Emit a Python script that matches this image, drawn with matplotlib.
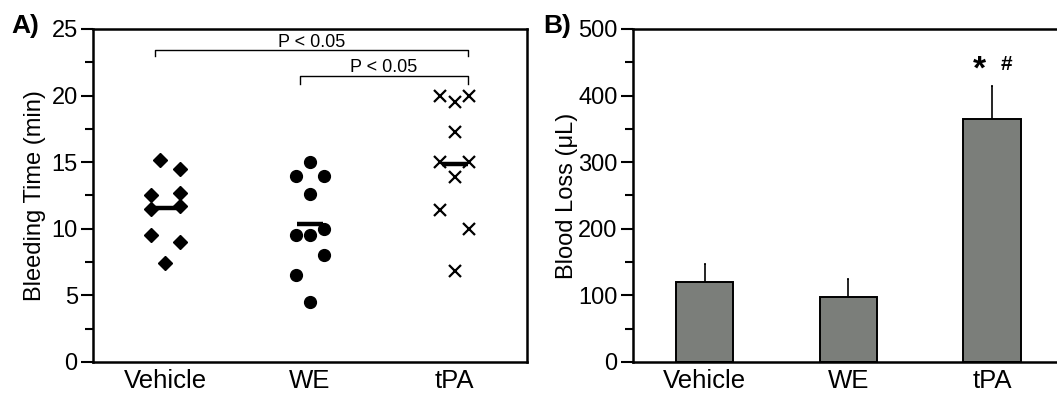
import matplotlib
matplotlib.use("Agg")
import matplotlib.pyplot as plt
import numpy as np
from matplotlib.ticker import MultipleLocator

plt.rcParams['font.family'] = ['Liberation Sans', 'DejaVu Sans']

# ---- Data ----
groups = ["Vehicle", "WE", "tPA"]

vehicle_time = [15.2, 14.5, 12.5, 12.7, 11.5, 11.7, 9.5, 9.0, 7.4]
vehicle_jitter = [-0.04, 0.10, -0.10, 0.10, -0.10, 0.10, -0.10, 0.10, 0.0]
we_time = [15.0, 14.0, 14.0, 12.6, 10.0, 9.5, 9.5, 8.0, 6.5, 4.5]
we_jitter = [0.0, -0.10, 0.10, 0.0, 0.10, -0.10, 0.0, 0.10, -0.10, 0.0]
tpa_time = [20.0, 19.5, 20.0, 17.3, 15.0, 15.0, 13.9, 11.4, 10.0, 6.8]
tpa_jitter = [-0.10, 0.0, 0.10, 0.0, -0.10, 0.10, 0.0, -0.10, 0.10, 0.0]

blood_loss_mean = [120, 98, 365]
blood_loss_sem = [27, 26, 49]

# ---- Figure ----
fig = plt.figure(figsize=(10.57, 3.96), dpi=100)
axA = fig.add_axes([0.088, 0.0859, 0.4106, 0.8409])
axB = fig.add_axes([0.5986, 0.0859, 0.408, 0.8409])

spine_lw = 1.8
tick_fs = 17
xlab_fs = 18.5
ylab_fs = 17

# Panel A
series = [(vehicle_time, vehicle_jitter, 'D', 7),
          (we_time, we_jitter, 'o', 8.5),
          (tpa_time, tpa_jitter, 'x', 8.5)]
for i, (vals, jit, mk, ms) in enumerate(series):
    xs = np.array(jit) + i
    if mk == 'x':
        axA.plot(xs, vals, linestyle='none', marker='x', ms=ms, mew=1.6, color='black')
    else:
        axA.plot(xs, vals, linestyle='none', marker=mk, ms=ms, color='black', mec='black')
    m = np.mean(vals)
    axA.plot([i - 0.09, i + 0.09], [m, m], color='black', lw=3.2, solid_capstyle='butt')

axA.set_xlim(-0.5, 2.5)
axA.set_ylim(0, 25)
axA.set_xticks(range(3))
axA.set_xticklabels(groups, fontsize=xlab_fs)
axA.tick_params(axis='x', length=0, pad=5)
axA.yaxis.set_major_locator(MultipleLocator(5))
axA.yaxis.set_minor_locator(MultipleLocator(2.5))
axA.tick_params(axis='y', which='major', length=9, width=1.5, labelsize=tick_fs, pad=2)
axA.tick_params(axis='y', which='minor', length=5.5, width=1.5)
for s in axA.spines.values():
    s.set_linewidth(spine_lw)
axA.set_ylabel("Bleeding Time (min)", fontsize=ylab_fs, labelpad=4)

# significance brackets
def bracket(ax, x1, x2, y, drop, text):
    ax.plot([x1, x1, x2, x2], [y - drop, y, y, y - drop], color='black', lw=1.0)
    ax.text((x1 + x2) / 2, y - 0.05, text, ha='center', va='bottom', fontsize=13)

bracket(axA, 0 - 0.07, 2 + 0.09, 23.4, 0.45, "P < 0.05")
bracket(axA, 1 - 0.07, 2 + 0.09, 21.5, 0.65, "P < 0.05")

fig.text(0.011, 0.905, "A)", fontsize=19, fontweight='bold', va='bottom', ha='left')

# Panel B
x = np.arange(3)
axB.bar(x, blood_loss_mean, width=0.4, color='#7b7e7a', edgecolor='black', linewidth=1.4, zorder=2)
axB.errorbar(x, blood_loss_mean, yerr=[np.zeros(3), blood_loss_sem], fmt='none',
             ecolor='black', elinewidth=1.2, capsize=1, capthick=1.2, zorder=1)
axB.set_xlim(-0.5, 2.5)
axB.set_ylim(0, 500)
axB.set_xticks(x)
axB.set_xticklabels(groups, fontsize=xlab_fs)
axB.tick_params(axis='x', length=0, pad=5)
axB.yaxis.set_major_locator(MultipleLocator(100))
axB.yaxis.set_minor_locator(MultipleLocator(50))
axB.tick_params(axis='y', which='major', length=9, width=1.5, labelsize=tick_fs, pad=2)
axB.tick_params(axis='y', which='minor', length=5.5, width=1.5)
for s in axB.spines.values():
    s.set_linewidth(spine_lw)
axB.set_ylabel("Blood Loss (\u03bcL)", fontsize=ylab_fs, labelpad=0)
axB.text(2 - 0.09, 438, "*", fontsize=24, fontweight='bold', ha='center', va='center')
axB.text(2 + 0.1, 446, "#", fontsize=15, fontweight='bold', ha='center', va='center')

fig.text(0.514, 0.905, "B)", fontsize=19, fontweight='bold', va='bottom', ha='left')

fig.savefig("out.png", dpi=100)
